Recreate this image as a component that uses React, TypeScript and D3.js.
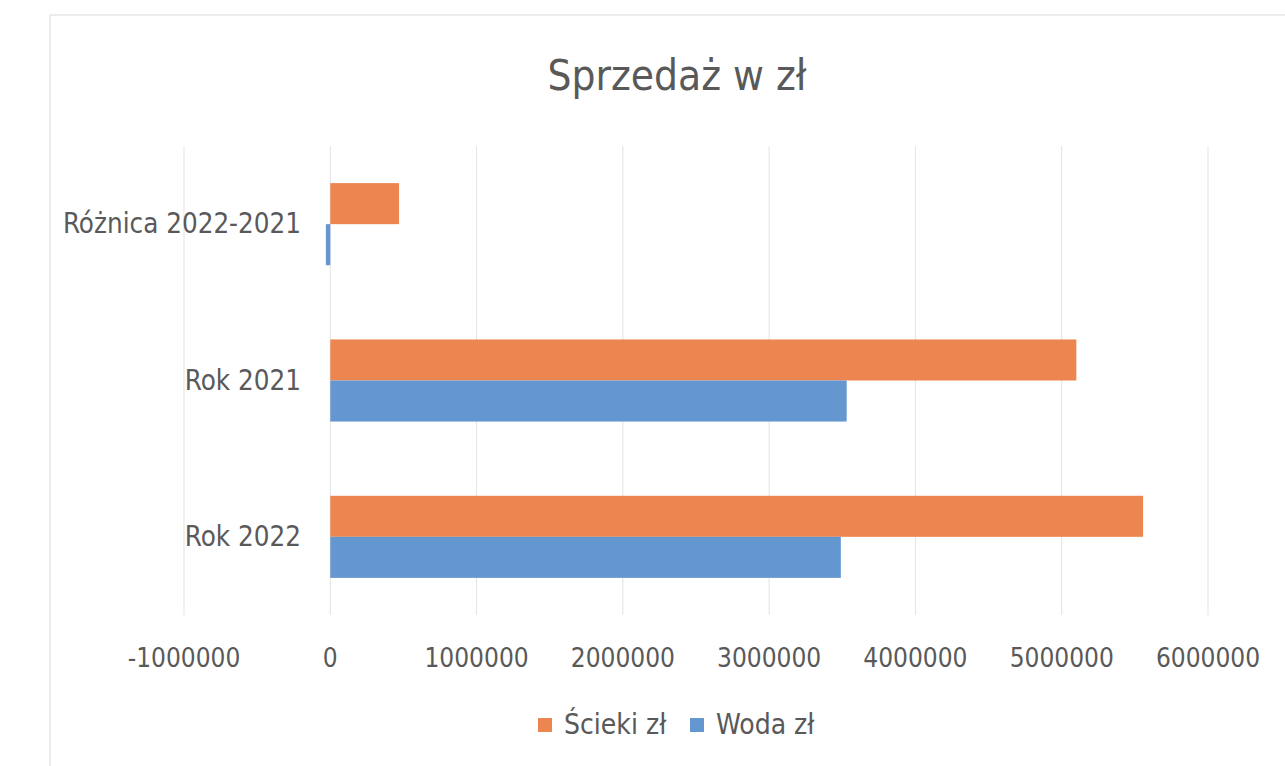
import React from "react";
import * as d3 from "d3";

const categories = ["Różnica 2022-2021", "Rok 2021", "Rok 2022"];
const seriesNames = ["Ścieki zł", "Woda zł"];
const sciekiValues = [470000, 5100000, 5556000];
const wodaValues = [-30000, 3530000, 3490000];
const xTicks = [-1000000, 0, 1000000, 2000000, 3000000, 4000000, 5000000, 6000000];
const seriesColors = ["#EC8550", "#6496CF"];

const W = 1285;
const H = 766;
const FONT = "'Liberation Sans Narrow', 'DejaVu Sans Condensed', 'Liberation Sans', sans-serif";
const TEXT = "#595959";

export default function App() {
  const x = d3.scaleLinear().domain([-1000000, 6000000]).range([184, 1208]);
  const y = d3.scaleBand<string>().domain(categories).range([146, 615]).paddingInner(0.475).paddingOuter(0.2375);
  const ys = d3.scaleBand<string>().domain(seriesNames).range([0, y.bandwidth()]);
  const allSeries = [sciekiValues, wodaValues];

  return (
    <div style={{ position: "fixed", left: 0, top: 0 }}>
      <svg width={W} height={H} style={{ display: "block", background: "#fff" }}>
        <line x1={50} x2={W} y1={15} y2={15} stroke="#e6e6e6" strokeWidth={1.5} />
        <line x1={50} x2={50} y1={15} y2={H} stroke="#e6e6e6" strokeWidth={1.5} />
        <text x={677} y={90} textAnchor="middle" fontFamily={FONT} fontSize={42} fill={TEXT}>
          Sprzedaż w zł
        </text>
        {xTicks.map((t) => (
          <g key={t}>
            <line x1={x(t)} x2={x(t)} y1={146} y2={615} stroke="#e3e3e3" strokeWidth={1} />
            <text x={x(t)} y={667} textAnchor="middle" fontFamily={FONT} fontSize={26} fill={TEXT}>
              {t}
            </text>
          </g>
        ))}
        {categories.map((c, i) => (
          <g key={c}>
            {allSeries.map((vals, s) => {
              const v = vals[i];
              const x0 = x(Math.min(0, v));
              const x1 = x(Math.max(0, v));
              return (
                <rect
                  key={s}
                  x={x0}
                  y={(y(c) as number) + (ys(seriesNames[s]) as number)}
                  width={Math.max(1, x1 - x0)}
                  height={ys.bandwidth()}
                  fill={seriesColors[s]}
                />
              );
            })}
            <text
              x={301}
              y={(y(c) as number) + y.bandwidth() / 2 + 9}
              textAnchor="end"
              fontFamily={FONT}
              fontSize={27.5}
              fill={TEXT}
            >
              {c}
            </text>
          </g>
        ))}
        {seriesNames.map((n, s) => {
          const lx = [538, 690][s];
          return (
            <g key={n}>
              <rect x={lx} y={718} width={14} height={14} fill={seriesColors[s]} />
              <text x={lx + 26} y={734} fontFamily={FONT} fontSize={28} fill={TEXT}>
                {n}
              </text>
            </g>
          );
        })}
      </svg>
    </div>
  );
}
